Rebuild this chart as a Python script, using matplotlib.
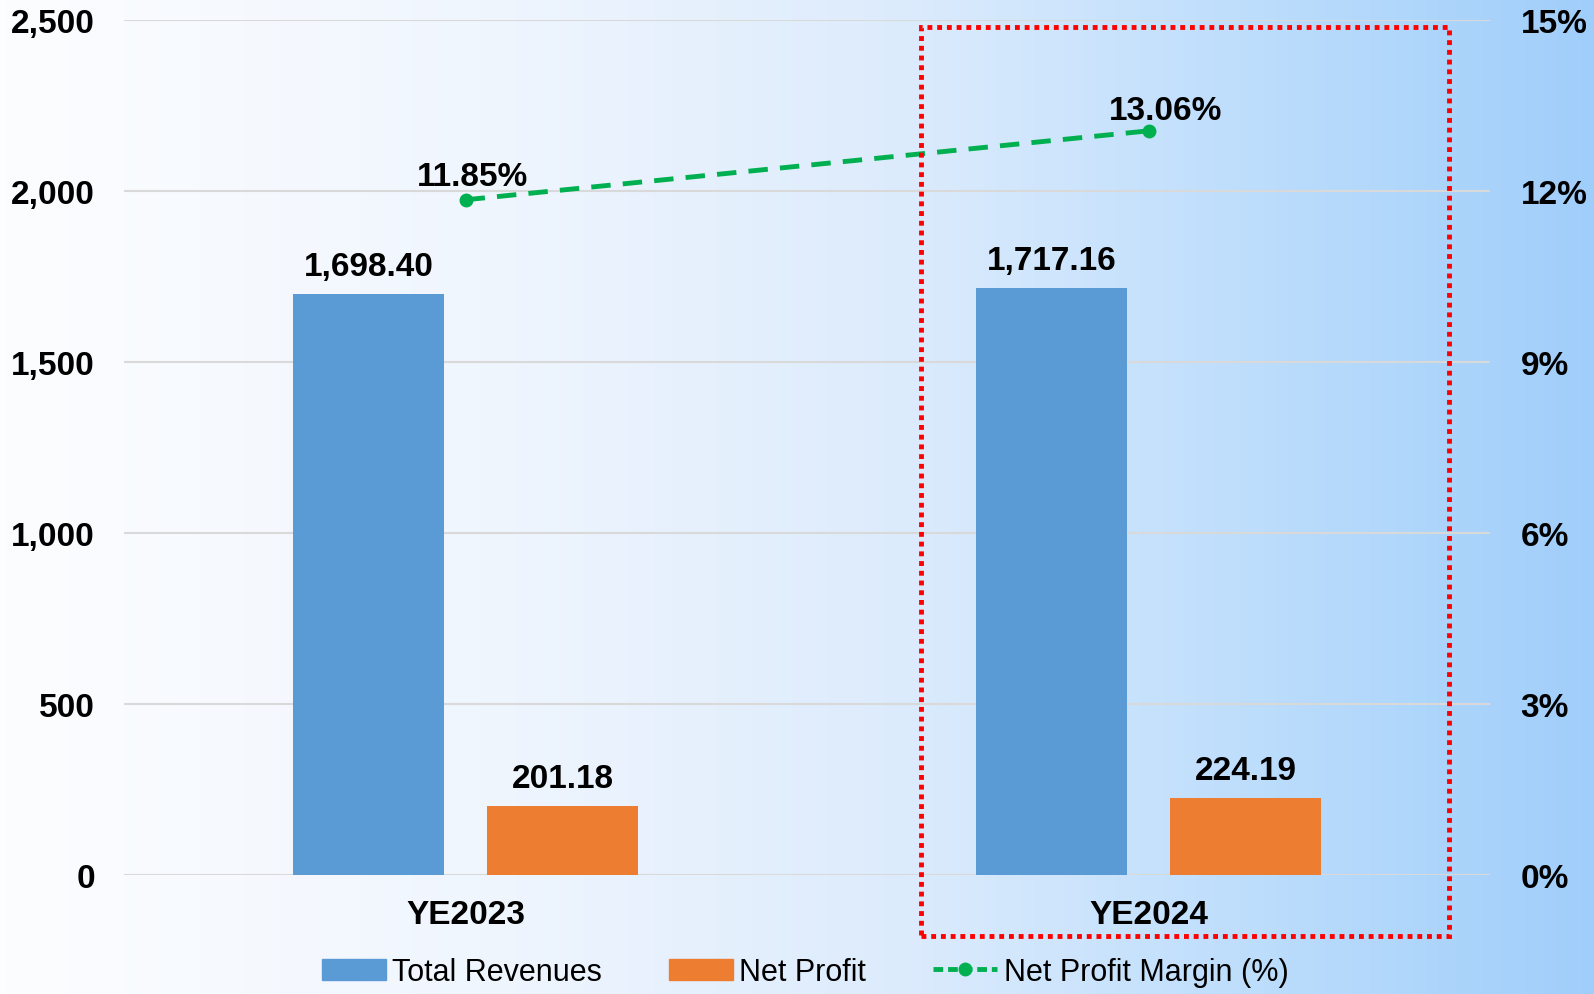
import numpy as np
import matplotlib
matplotlib.use('Agg')
import matplotlib.pyplot as plt
from matplotlib.colors import LinearSegmentedColormap
from matplotlib.patches import Rectangle, Patch
from matplotlib.lines import Line2D

years = ['YE2023', 'YE2024']
revenues = [1698.40, 1717.16]
net_profit = [201.18, 224.19]
margin = [11.85, 13.06]

blue = '#5b9bd5'
orange = '#ed7d31'
green = '#00b050'

plt.rcParams['font.family'] = ['Liberation Sans', 'DejaVu Sans']
fs = 24

fig = plt.figure(figsize=(15.94, 9.95), dpi=100)

# background gradient, white -> light blue
bg = fig.add_axes([0, 0, 1, 1], zorder=-10)
cmap = LinearSegmentedColormap.from_list('bg', [
    (0.0, (252/255, 253/255, 255/255)),
    (0.3, (240/255, 246/255, 254/255)),
    (0.57, (220/255, 235/255, 252/255)),
    (0.78, (190/255, 222/255, 252/255)),
    (1.0, (160/255, 206/255, 250/255)),
])
bg.imshow(np.linspace(0, 1, 512)[None, :], aspect='auto', cmap=cmap,
          extent=[0, 1, 0, 1])
bg.axis('off')

ax = fig.add_axes([0.0778, 0.1196, 0.857, 0.859])
ax.patch.set_alpha(0)
x = np.arange(len(years))
w = 0.222
off = 0.142

ax.bar(x - off, revenues, w, color=blue, zorder=3)
ax.bar(x + off, net_profit, w, color=orange, zorder=3)

for i in range(len(years)):
    ax.annotate(f'{revenues[i]:,.2f}', (x[i] - off, revenues[i]),
                xytext=(0, 20), textcoords='offset points',
                ha='center', va='center', fontsize=fs, fontweight='bold')
    ax.annotate(f'{net_profit[i]:,.2f}', (x[i] + off, net_profit[i]),
                xytext=(0, 20), textcoords='offset points',
                ha='center', va='center', fontsize=fs, fontweight='bold')

ax.set_xlim(-0.5, 1.5)
ax.set_ylim(0, 2500)
ax.set_yticks(np.arange(0, 2501, 500))
ax.set_yticklabels([f'{v:,}' for v in range(0, 2501, 500)])
ax.set_xticks(x)
ax.set_xticklabels(years)
ax.grid(axis='y', color='#d9d9d9', linewidth=1.5, zorder=0)
for s in ax.spines.values():
    s.set_visible(False)
ax.tick_params(axis='y', length=0, pad=21, labelsize=fs)
ax.tick_params(axis='x', length=0, pad=17, labelsize=fs)
for t in ax.get_yticklabels() + ax.get_xticklabels():
    t.set_fontweight('bold')

ax2 = ax.twinx()
ax2.set_ylim(0, 15)
ax2.set_yticks(np.arange(0, 16, 3))
ax2.set_yticklabels([f'{v}%' for v in range(0, 16, 3)])
ax2.tick_params(axis='y', length=0, pad=22, labelsize=fs)
for t in ax2.get_yticklabels():
    t.set_fontweight('bold')
for s in ax2.spines.values():
    s.set_visible(False)
ax2.plot(x, margin, color=green, linestyle=(0, (4, 2.5)), linewidth=3.5,
         marker='o', markersize=9, zorder=5)
label_offsets = [(5, 17), (12, 15)]
for i in range(len(years)):
    ax2.annotate(f'{margin[i]:.2f}%', (x[i], margin[i]),
                 xytext=label_offsets[i], textcoords='offset points',
                 ha='center', va='center', fontsize=fs, fontweight='bold')

# red dotted highlight box around YE2024
fig.patches.append(Rectangle((0.578, 0.058), 0.331, 0.914,
                             transform=fig.transFigure, fill=False,
                             edgecolor='#ff0000', linewidth=3.5,
                             linestyle=(0, (1, 1)), zorder=10))

handles = [Patch(color=blue), Patch(color=orange),
           Line2D([], [], color=green, linestyle=(0, (2, 1)), linewidth=3.5,
                  marker='o', markersize=9)]
fig.legend(handles, ['Total Revenues', 'Net Profit', 'Net Profit Margin (%)'],
           loc='center', bbox_to_anchor=(0.505, 0.022), ncol=3, frameon=False,
           prop={'size': 22},
           handlelength=2.1, handleheight=0.7, handletextpad=0.2,
           columnspacing=2.2)

fig.savefig('out.png', dpi=100)
